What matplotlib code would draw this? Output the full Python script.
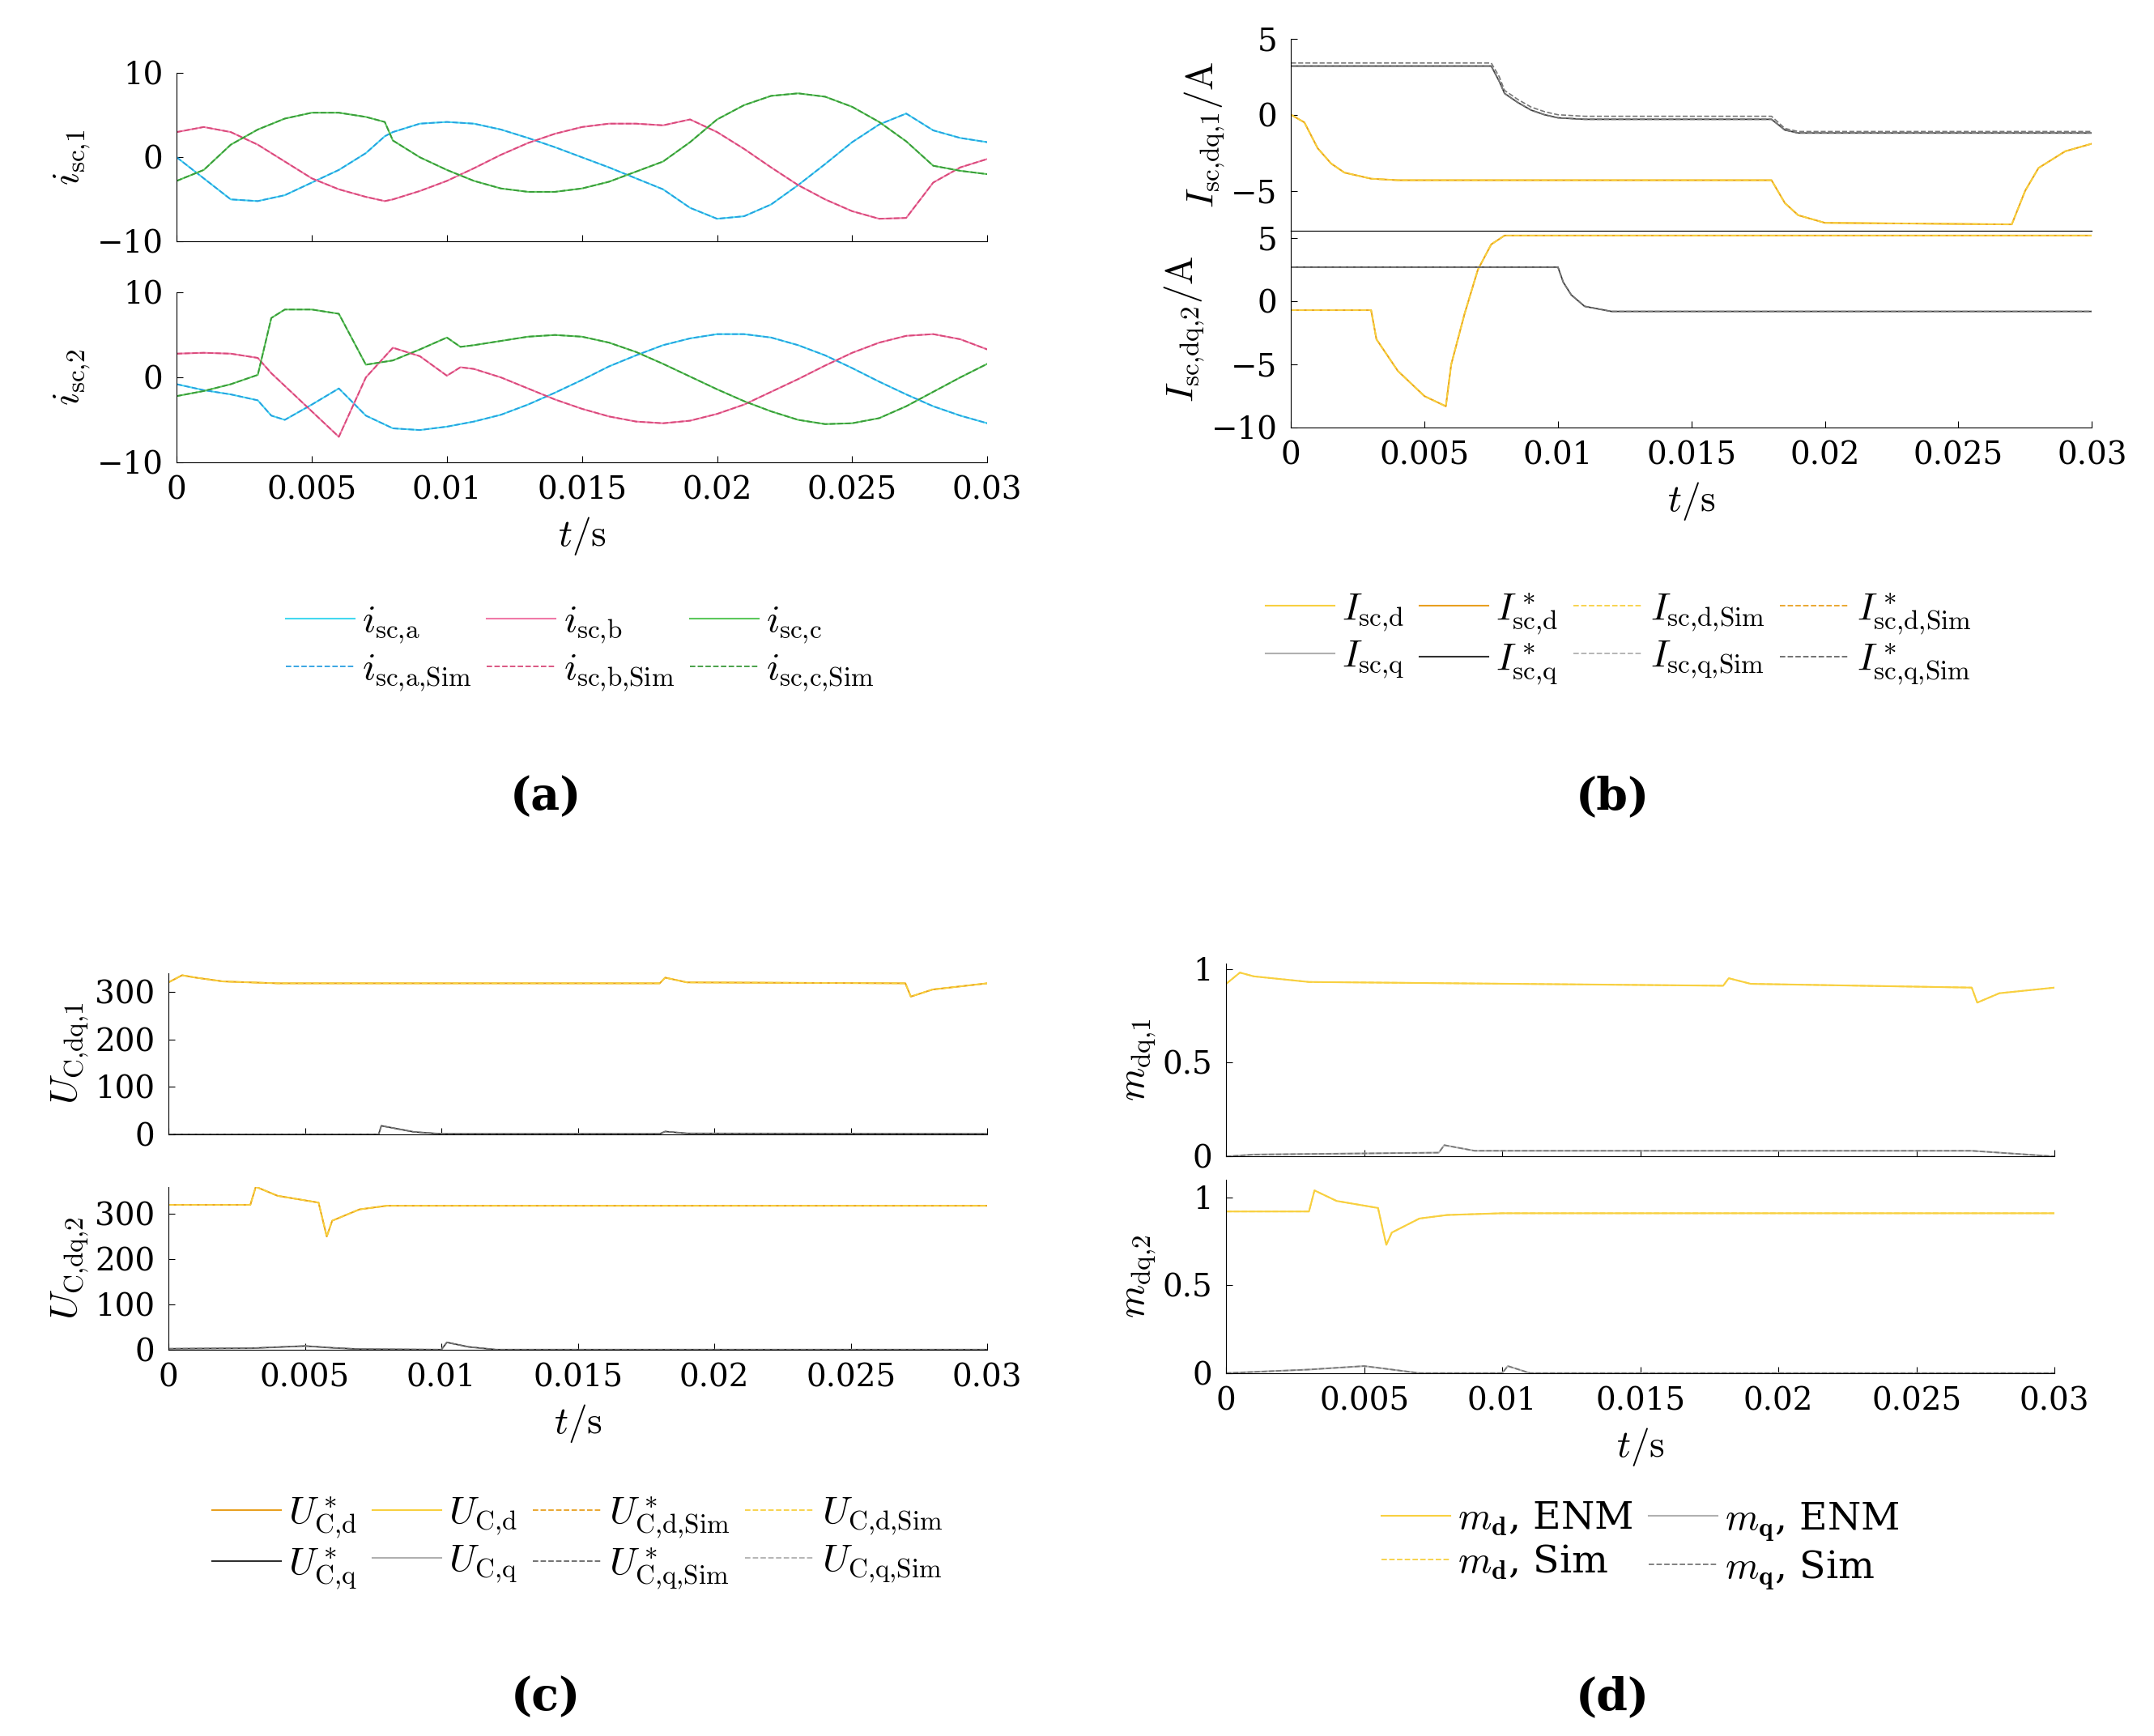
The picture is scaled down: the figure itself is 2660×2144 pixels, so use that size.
import numpy as np
import matplotlib
matplotlib.use("Agg")
import matplotlib.pyplot as plt

plt.rcParams["mathtext.fontset"] = "cm"
plt.rcParams["font.family"] = "DejaVu Serif"
plt.rcParams["font.size"] = 26

# ---------------- data ----------------
t_a = [0, .001, .002, .003, .004, .005, .006, .007, .0077, .008, .009, .010, .011, .012, .013, .014, .015,
       .016, .017, .018, .019, .020, .021, .022, .023, .024, .025, .026, .027, .028, .029, .030]
ia1 = [0, -2.5, -5, -5.2, -4.5, -3, -1.5, .5, 2.5, 3, 4, 4.2, 4, 3.3, 2.3, 1.2, 0,
       -1.2, -2.5, -3.8, -6, -7.3, -7, -5.6, -3.3, -.8, 1.8, 3.9, 5.2, 3.2, 2.3, 1.8]
ib1 = [3, 3.6, 3, 1.5, -.5, -2.5, -3.8, -4.7, -5.2, -5, -4, -2.8, -1.3, .3, 1.7, 2.8, 3.6,
       4, 4, 3.8, 4.5, 3, 1, -1.2, -3.3, -5, -6.4, -7.3, -7.2, -3, -1.2, -.2]
ic1 = [-2.8, -1.5, 1.5, 3.3, 4.6, 5.3, 5.3, 4.8, 4.2, 2, 0, -1.5, -2.8, -3.7, -4.1, -4.1, -3.7,
       -2.9, -1.7, -.5, 1.8, 4.5, 6.2, 7.3, 7.6, 7.2, 6, 4.2, 1.9, -1, -1.6, -2]

t_a2 = [0, .001, .002, .003, .0035, .004, .005, .006, .007, .008, .009, .010, .0105, .011, .012, .013, .014,
        .015, .016, .017, .018, .019, .020, .021, .022, .023, .024, .025, .026, .027, .028, .029, .030]
ia2 = [-.8, -1.5, -2, -2.7, -4.5, -5, -3.2, -1.3, -4.5, -6, -6.2, -5.8, -5.5, -5.2, -4.4, -3.2, -1.8,
       -.3, 1.3, 2.6, 3.8, 4.6, 5.1, 5.1, 4.7, 3.8, 2.6, 1.1, -.5, -2, -3.4, -4.5, -5.4]
ib2 = [2.8, 2.9, 2.8, 2.3, .5, -1, -4, -7, 0, 3.5, 2.5, .2, 1.2, 1, 0, -1.3, -2.6,
       -3.7, -4.6, -5.2, -5.4, -5.1, -4.3, -3.2, -1.7, -.2, 1.4, 2.9, 4.1, 4.9, 5.1, 4.5, 3.3]
ic2 = [-2.2, -1.6, -.8, .3, 7, 8, 8, 7.5, 1.5, 2, 3.3, 4.7, 3.6, 3.8, 4.3, 4.8, 5,
       4.8, 4.1, 3, 1.6, .1, -1.4, -2.8, -4, -5, -5.5, -5.4, -4.8, -3.4, -1.7, 0, 1.6]

tb1_q = [0, .0075, .0078, .008, .0085, .009, .0095, .010, .011, .018, .0185, .019, .030]
b1_q = [3.2, 3.2, 2.2, 1.4, .8, .3, 0, -.2, -.3, -.3, -1.0, -1.2, -1.2]
b1_qs = [3.4, 3.4, 2.5, 1.6, 1.0, .5, .2, 0, -.1, -.1, -.9, -1.1, -1.1]
tb1_d = [0, .0005, .001, .0015, .002, .003, .004, .018, .0185, .019, .020, .027, .0275, .028, .029, .030]
b1_d = [0, -.5, -2.2, -3.2, -3.8, -4.2, -4.3, -4.3, -5.8, -6.6, -7.1, -7.2, -5, -3.5, -2.4, -1.9]
tb2_d = [0, .003, .0032, .004, .005, .0058, .006, .0065, .007, .0075, .008, .030]
b2_d = [-.7, -.7, -3, -5.5, -7.5, -8.3, -5, -1, 2.5, 4.5, 5.2, 5.2]
tb2_q = [0, .010, .0102, .0105, .011, .012, .030]
b2_q = [2.7, 2.7, 1.5, .5, -.4, -.8, -.8]

tc1_d = [0, .0005, .001, .002, .004, .018, .0182, .019, .027, .0272, .028, .030]
c1_d = [320, 335, 330, 322, 318, 318, 330, 320, 318, 290, 305, 318]
tc1_q = [0, .0077, .0078, .009, .010, .018, .0182, .019, .030]
c1_q = [0, 0, 18, 5, 1, 1, 6, 2, 1]
tc2_d = [0, .003, .0032, .004, .0055, .0058, .006, .007, .008, .030]
c2_d = [320, 320, 360, 340, 325, 250, 285, 310, 318, 318]
tc2_q = [0, .003, .005, .006, .007, .010, .0102, .011, .012, .030]
c2_q = [2, 3, 8, 4, 1, 0, 16, 6, 0, 0]

td1_d = [0, .0005, .001, .003, .018, .0182, .019, .027, .0272, .028, .030]
d1_d = [.92, .98, .96, .93, .91, .95, .92, .90, .82, .87, .90]
td1_q = [0, .001, .0077, .0079, .009, .018, .027, .030]
d1_q = [0, .01, .02, .06, .03, .03, .03, 0]
td2_d = [0, .003, .0032, .004, .0055, .0058, .006, .007, .008, .010, .030]
d2_d = [.92, .92, 1.04, .98, .94, .73, .80, .88, .90, .91, .91]
td2_q = [0, .003, .005, .006, .007, .010, .0102, .011, .030]
d2_q = [0, .02, .04, .02, 0, 0, .04, 0, 0]

xticks = [0, .005, .01, .015, .02, .025, .03]
xticklabels = ["0", "0.005", "0.01", "0.015", "0.02", "0.025", "0.03"]

CYAN, CYAN_S = "#44d8f0", "#2a9fe0"
PINK, PINK_S = "#f07aa8", "#d84a7a"
GREEN, GREEN_S = "#5cc85c", "#3a9a3a"
YEL, ORA = "#f8d040", "#e8a020"
GRAY, BLK = "#b0b0b0", "#303030"

W, H = 1560, 1258
fig = plt.figure(figsize=(26.6, 21.44), dpi=100)


def ax_px(x0, y0, x1, y1):
    return fig.add_axes([x0 / W, 1 - y1 / H, (x1 - x0) / W, (y1 - y0) / H])


def style(ax, xlab=True):
    ax.spines["top"].set_visible(False)
    ax.spines["right"].set_visible(False)
    ax.set_xlim(0, .03)
    ax.tick_params(direction="in", length=6, labelsize=28, pad=12)
    ax.set_xticks(xticks)
    if xlab:
        ax.set_xticklabels(xticklabels)
        ax.set_xlabel(r"$t/\mathrm{s}$", fontsize=34, labelpad=8)
    else:
        ax.set_xticklabels([])


def dq_lines(ax, td, d, tq, q, dref=True):
    ax.plot(td, d, color=YEL, lw=1.5)
    if dref:
        ax.plot(td, d, color=ORA, lw=1.2)
    ax.plot(td, d, color=YEL, lw=1.3, ls="--")
    ax.plot(tq, q, color=GRAY, lw=1.5)
    if dref:
        ax.plot(tq, q, color=BLK, lw=1.0)
    ax.plot(tq, q, color="#777777", lw=1.2, ls="--")


def rowwise(items, ncol):
    # matplotlib fills legend columns first; reorder so entries read by rows
    rows = [items[i:i + ncol] for i in range(0, len(items), ncol)]
    return [r[c] for c in range(ncol) for r in rows]


def legend(handles, labels, ncol, x, y):
    fig.legend(rowwise(handles, ncol), rowwise(labels, ncol), ncol=ncol, frameon=False, fontsize=34,
               loc="center", bbox_to_anchor=(x / W, 1 - y / H), handlelength=1.8,
               columnspacing=0.4, handletextpad=0.2, labelspacing=0.15)


# ---- (a) ----
a1 = ax_px(128, 53, 715, 175)
for v, c, cs in [(ia1, CYAN, CYAN_S), (ib1, PINK, PINK_S), (ic1, GREEN, GREEN_S)]:
    a1.plot(t_a, v, color=c, lw=1.5)
    a1.plot(t_a, v, color=cs, lw=1.3, ls="--")
style(a1, False)
a1.set_ylim(-10, 10)
a1.set_yticks([-10, 0, 10])
a1.set_ylabel(r"$i_{\mathrm{sc{,}1}}$", fontsize=34)

a2 = ax_px(128, 212, 715, 335)
hs = []
for v, c, cs in [(ia2, CYAN, CYAN_S), (ib2, PINK, PINK_S), (ic2, GREEN, GREEN_S)]:
    hs.append(a2.plot(t_a2, v, color=c, lw=1.5)[0])
for v, c, cs in [(ia2, CYAN, CYAN_S), (ib2, PINK, PINK_S), (ic2, GREEN, GREEN_S)]:
    hs.append(a2.plot(t_a2, v, color=cs, lw=1.3, ls="--")[0])
style(a2)
a2.set_ylim(-10, 10)
a2.set_yticks([-10, 0, 10])
a2.set_ylabel(r"$i_{\mathrm{sc{,}2}}$", fontsize=34)
legend(hs, [r"$i_{\mathrm{sc{,}a}}$", r"$i_{\mathrm{sc{,}b}}$", r"$i_{\mathrm{sc{,}c}}$",
            r"$i_{\mathrm{sc{,}a{,}Sim}}$", r"$i_{\mathrm{sc{,}b{,}Sim}}$", r"$i_{\mathrm{sc{,}c{,}Sim}}$"],
       3, 420, 470)

# ---- (b) ----
b1 = ax_px(935, 28, 1515, 167)
dq_lines(b1, tb1_d, b1_d, tb1_q, b1_q)
b1.plot(tb1_q, b1_qs, color="#777777", lw=1.2, ls="--")
style(b1, False)
b1.set_ylim(-7.6, 5)
b1.set_yticks([-5, 0, 5])
b1.set_ylabel(r"$I_{\mathrm{sc{,}dq{,}1}}/\mathrm{A}$", fontsize=34)
b1.tick_params(axis="x", length=0)

b2 = ax_px(935, 167, 1515, 310)
dq_lines(b2, tb2_d, b2_d, tb2_q, b2_q)
style(b2)
b2.spines["top"].set_visible(True)
b2.set_ylim(-10, 5.6)
b2.set_yticks([-10, -5, 0, 5])
b2.set_ylabel(r"$I_{\mathrm{sc{,}dq{,}2}}/\mathrm{A}$", fontsize=34)
hb = [plt.Line2D([], [], color=YEL, lw=1.5), plt.Line2D([], [], color=ORA, lw=1.5),
      plt.Line2D([], [], color=YEL, lw=1.3, ls="--"), plt.Line2D([], [], color=ORA, lw=1.3, ls="--"),
      plt.Line2D([], [], color=GRAY, lw=1.5), plt.Line2D([], [], color=BLK, lw=1.5),
      plt.Line2D([], [], color=GRAY, lw=1.3, ls="--"), plt.Line2D([], [], color="#666666", lw=1.3, ls="--")]
legend(hb, [r"$I_{\mathrm{sc{,}d}}$", r"$I^*_{\mathrm{sc{,}d}}$", r"$I_{\mathrm{sc{,}d{,}Sim}}$", r"$I^*_{\mathrm{sc{,}d{,}Sim}}$",
            r"$I_{\mathrm{sc{,}q}}$", r"$I^*_{\mathrm{sc{,}q}}$", r"$I_{\mathrm{sc{,}q{,}Sim}}$", r"$I^*_{\mathrm{sc{,}q{,}Sim}}$"],
       4, 1172, 463)

# ---- (c) ----
c1 = ax_px(122, 705, 715, 822)
dq_lines(c1, tc1_d, c1_d, tc1_q, c1_q)
style(c1, False)
c1.set_ylim(0, 340)
c1.set_yticks([0, 100, 200, 300])
c1.set_ylabel(r"$U_{\mathrm{C{,}dq{,}1}}$", fontsize=34)

c2 = ax_px(122, 860, 715, 978)
dq_lines(c2, tc2_d, c2_d, tc2_q, c2_q)
style(c2)
c2.set_ylim(0, 360)
c2.set_yticks([0, 100, 200, 300])
c2.set_ylabel(r"$U_{\mathrm{C{,}dq{,}2}}$", fontsize=34)
hc = [plt.Line2D([], [], color=ORA, lw=1.5), plt.Line2D([], [], color=YEL, lw=1.5),
      plt.Line2D([], [], color=ORA, lw=1.3, ls="--"), plt.Line2D([], [], color=YEL, lw=1.3, ls="--"),
      plt.Line2D([], [], color=BLK, lw=1.5), plt.Line2D([], [], color=GRAY, lw=1.5),
      plt.Line2D([], [], color="#666666", lw=1.3, ls="--"), plt.Line2D([], [], color=GRAY, lw=1.3, ls="--")]
legend(hc, [r"$U^*_{\mathrm{C{,}d}}$", r"$U_{\mathrm{C{,}d}}$", r"$U^*_{\mathrm{C{,}d{,}Sim}}$", r"$U_{\mathrm{C{,}d{,}Sim}}$",
            r"$U^*_{\mathrm{C{,}q}}$", r"$U_{\mathrm{C{,}q}}$", r"$U^*_{\mathrm{C{,}q{,}Sim}}$", r"$U_{\mathrm{C{,}q{,}Sim}}$"],
       4, 418, 1118)

# ---- (d) ----
d1 = ax_px(888, 698, 1488, 838)
dq_lines(d1, td1_d, d1_d, td1_q, d1_q, dref=False)
style(d1, False)
d1.set_ylim(0, 1.03)
d1.set_yticks([0, .5, 1])
d1.set_yticklabels(["0", "0.5", "1"])
d1.set_ylabel(r"$m_{\mathrm{dq{,}1}}$", fontsize=34)

d2 = ax_px(888, 855, 1488, 995)
dq_lines(d2, td2_d, d2_d, td2_q, d2_q, dref=False)
style(d2)
d2.set_ylim(0, 1.1)
d2.set_yticks([0, .5, 1])
d2.set_yticklabels(["0", "0.5", "1"])
d2.set_ylabel(r"$m_{\mathrm{dq{,}2}}$", fontsize=34)
hd = [plt.Line2D([], [], color=YEL, lw=1.5), plt.Line2D([], [], color=GRAY, lw=1.5),
      plt.Line2D([], [], color=YEL, lw=1.3, ls="--"), plt.Line2D([], [], color="#777777", lw=1.3, ls="--")]
legend(hd, [r"$m_{\mathbf{d}}$, ENM", r"$m_{\mathbf{q}}$, ENM", r"$m_{\mathbf{d}}$, Sim", r"$m_{\mathbf{q}}$, Sim"],
       2, 1188, 1120)

for lab, x, y in [("(a)", 395, 578), ("(b)", 1168, 578), ("(c)", 395, 1230), ("(d)", 1168, 1230)]:
    fig.text(x / W, 1 - y / H, lab, fontsize=40, fontweight="bold", ha="center", va="center")

fig.savefig("out.png", dpi=100, facecolor="white")
